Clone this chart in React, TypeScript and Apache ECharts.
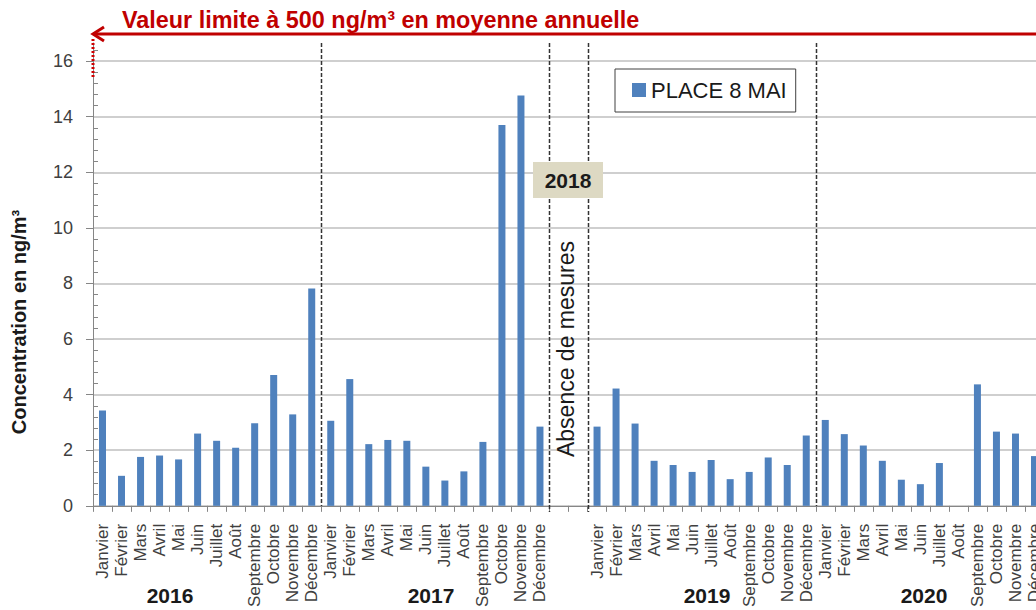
import React, { useEffect, useRef } from "react";
import * as echarts from "echarts";

const months = ["Janvier", "Février", "Mars", "Avril", "Mai", "Juin", "Juillet", "Août", "Septembre", "Octobre", "Novembre", "Décembre"];
const values2016 = [3.43, 1.08, 1.76, 1.81, 1.67, 2.6, 2.34, 2.09, 2.97, 4.71, 3.29, 7.82];
const values2017 = [3.06, 4.56, 2.22, 2.37, 2.34, 1.41, 0.91, 1.24, 2.3, 13.7, 14.76, 2.85];
const gap2018 = [null, null];
const values2019 = [2.85, 4.22, 2.96, 1.62, 1.47, 1.22, 1.65, 0.96, 1.22, 1.74, 1.47, 2.53];
const values2020 = [3.09, 2.58, 2.17, 1.62, 0.94, 0.78, 1.54, null, 4.37, 2.67, 2.6, 1.79];
const seriesName = "PLACE 8 MAI";
const yTicks = [0, 2, 4, 6, 8, 10, 12, 14, 16];

const categories = [
  ...months.map((m) => m),
  ...months.map((m) => m + "\u200b"),
  "", "\u200b",
  ...months.map((m) => m + "\u200b\u200b"),
  ...months.map((m) => m + "\u200b\u200b\u200b"),
];
const allValues = [...values2016, ...values2017, ...gap2018, ...values2019, ...values2020];
const boundaries = [12, 24, 26, 38];

const FONT = "'Liberation Sans', Arial, sans-serif";

export default function App() {
  const ref = useRef<HTMLDivElement>(null);
  useEffect(() => {
    if (!ref.current) return;
    const chart = echarts.init(ref.current, null, { renderer: "svg" });
    const yCommon = { type: "value", min: 0, max: 16.65, interval: 2 };
    chart.setOption({
      animation: false,
      textStyle: { fontFamily: FONT },
      grid: { left: 93, right: 0, top: 43, bottom: 104, containLabel: false },
      legend: {
        show: true,
        left: 615,
        top: 69,
        borderColor: "#404040",
        borderWidth: 1,
        borderRadius: 0,
        padding: [10, 9, 11, 17],
        itemWidth: 14,
        itemHeight: 14,
        icon: "rect",
        textStyle: { fontSize: 22, color: "#1a1a1a", fontFamily: FONT, lineHeight: 22 },
        data: [seriesName],
      },
      xAxis: [
        {
          type: "category",
          data: categories,
          axisLine: { lineStyle: { color: "#868686", width: 1 } },
          axisTick: { show: true, interval: 0, length: 6, lineStyle: { color: "#868686" } },
          axisLabel: {
            interval: 0,
            rotate: 90,
            fontSize: 17,
            color: "#404040",
            margin: 18,
            fontFamily: FONT,
            formatter: (v: string) => v.replace(/\u200b/g, ""),
          },
          splitLine: { show: false },
        },
      ],
      yAxis: [
        {
          ...yCommon,
          axisLine: { show: true, lineStyle: { color: "#868686" } },
          axisTick: { show: true, length: 7, lineStyle: { color: "#868686" } },
          axisLabel: {
            fontSize: 18,
            color: "#404040",
            margin: 20,
            fontFamily: FONT,
            showMaxLabel: false,
            formatter: (v: number) => (yTicks.indexOf(v) >= 0 ? String(v) : ""),
          },
          splitLine: { show: true, showMaxLine: false, lineStyle: { color: "#bfbfbf", width: 1.5 } },
        },
        {
          ...yCommon,
          position: "left",
          offset: 0,
          axisLine: { show: false },
          axisTick: { show: false, inside: true },
          minorTick: { show: true, splitNumber: 5, length: 5, lineStyle: { color: "#868686" } },
          axisLabel: { show: false },
          splitLine: { show: false },
        },
      ],
      series: [
        {
          name: seriesName,
          type: "bar",
          data: allValues,
          barWidth: 7,
          yAxisIndex: 0,
          itemStyle: { color: "#4f81bd" },
        },
      ],
    });

    const px = (i: number) => chart.convertToPixel({ xAxisIndex: 0 }, i) as number;
    const dashed = boundaries.map((b) => {
      const x = Math.round((px(b - 1) + px(b)) / 2) + 0.5;
      return {
        type: "line",
        shape: { x1: x, y1: 43, x2: x, y2: b === 24 || b === 26 ? 512 : 506 },
        style: { stroke: "#333333", lineWidth: 1.5, lineDash: [4, 2] },
        z: 10,
      };
    });
    const years = [
      { t: "2016", x: 170 },
      { t: "2017", x: 431 },
      { t: "2019", x: 707 },
      { t: "2020", x: 924 },
    ].map((y) => ({
      type: "text",
      x: y.x,
      y: 595,
      style: { text: y.t, fontSize: 21, fontWeight: "bold", fill: "#1a1a1a", align: "center", verticalAlign: "middle", fontFamily: FONT },
      z: 20,
    }));

    chart.setOption({
      graphic: [
        ...dashed,
        ...years,
        {
          type: "text",
          x: 122,
          y: 20,
          style: {
            text: "Valeur limite à 500 ng/m³ en moyenne annuelle",
            fontSize: 23.4,
            fontWeight: "bold",
            fill: "#c00000",
            align: "left",
            verticalAlign: "middle",
            fontFamily: FONT,
          },
          z: 20,
        },
        {
          type: "line",
          shape: { x1: 93, y1: 34, x2: 1050, y2: 34 },
          style: { stroke: "#c00000", lineWidth: 3 },
          z: 20,
        },
        {
          type: "polyline",
          shape: { points: [[104, 27], [93, 34], [104, 41]] },
          style: { stroke: "#c00000", lineWidth: 3, fill: null },
          z: 20,
        },
        {
          type: "line",
          shape: { x1: 93, y1: 39, x2: 93, y2: 79 },
          style: { stroke: "#d00000", lineWidth: 3, lineDash: [2, 2] },
          z: 20,
        },
        {
          type: "rect",
          shape: { x: 533, y: 162, width: 70, height: 36 },
          style: { fill: "#ddd9c3" },
          z: 20,
        },
        {
          type: "text",
          x: 568,
          y: 180,
          style: { text: "2018", fontSize: 21, fontWeight: "bold", fill: "#1a1a1a", align: "center", verticalAlign: "middle", fontFamily: FONT },
          z: 21,
        },
        {
          type: "text",
          x: 566,
          y: 349,
          rotation: Math.PI / 2,
          style: { text: "Absence de mesures", fontSize: 23, fill: "#1a1a1a", align: "center", verticalAlign: "middle", fontFamily: FONT },
          z: 20,
        },
        {
          type: "text",
          x: 19,
          y: 322,
          rotation: Math.PI / 2,
          style: { text: "Concentration en ng/m³", fontSize: 20, fontWeight: "bold", fill: "#1a1a1a", align: "center", verticalAlign: "middle", fontFamily: FONT },
          z: 20,
        },
      ],
    });

    return () => chart.dispose();
  }, []);
  return (
    <div style={{ position: "fixed", left: 0, top: 0, width: 1036, height: 610, background: "#fff", overflow: "hidden" }}>
      <div ref={ref} style={{ width: 1044, height: 610 }} />
    </div>
  );
}
